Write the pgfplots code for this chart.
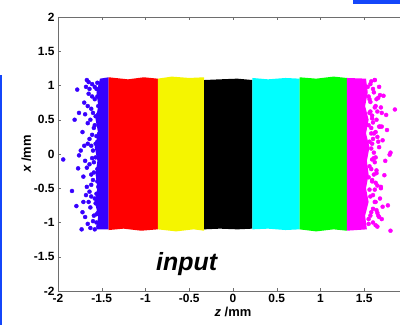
\documentclass[border=0pt]{standalone}
\usepackage{pgfplots}
\pgfplotsset{compat=1.18}
\usepackage{fontspec}
\setmainfont{Liberation Sans}
\definecolor{mblue}{RGB}{55,0,255}
\definecolor{myellow}{RGB}{245,245,0}
\definecolor{mred}{RGB}{255,0,0}
\definecolor{mcyan}{RGB}{0,255,255}
\definecolor{mgreen}{RGB}{0,255,0}
\definecolor{mmag}{RGB}{255,0,255}
\definecolor{edgeblue}{RGB}{20,70,250}
\definecolor{axgray}{RGB}{110,110,110}
\begin{document}
\begin{tikzpicture}
\begin{axis}[
  scale only axis, width=350bp, height=274bp,
  xmin=-2, xmax=2, ymin=-2, ymax=2,
  xtick={-2,-1.5,-1,-0.5,0,0.5,1,1.5},
  ytick={-2,-1.5,-1,-0.5,0,0.5,1,1.5,2},
  tick align=inside, major tick length=3bp,
  axis line style={draw=axgray},
  every tick/.style={draw=axgray},
  /pgf/number format/assume math mode=true,
  ticklabel style={font=\fontsize{12}{12}\selectfont\bfseries},
  xlabel={\textit{z} /mm}, ylabel={\textit{x} /mm},
  label style={font=\fontsize{13}{13}\selectfont\bfseries},
  xlabel style={yshift=3bp},
  ylabel style={yshift=-4bp},
  clip=true,
]
% dense bands
\addplot[fill=mblue, draw=none] coordinates {(-1.42,-1.10) (-1.56,-1.10) (-1.54,-0.90) (-1.58,-0.70) (-1.55,-0.50) (-1.57,-0.30) (-1.55,-0.10) (-1.58,0.10) (-1.54,0.30) (-1.57,0.50) (-1.54,0.70) (-1.56,0.90) (-1.52,1.10) (-1.42,1.12)};
\addplot[fill=mred, draw=none] coordinates {(-1.42,-1.11) (-1.25,-1.09) (-1.05,-1.12) (-0.86,-1.10) (-0.86,1.10) (-1.02,1.12) (-1.20,1.09) (-1.42,1.12)};
\addplot[fill=myellow, draw=none] coordinates {(-0.86,-1.10) (-0.65,-1.13) (-0.45,-1.10) (-0.33,-1.12) (-0.33,1.12) (-0.50,1.11) (-0.70,1.13) (-0.86,1.10)};
\addplot[fill=black, draw=none] coordinates {(-0.33,-1.10) (-0.15,-1.09) (0.05,-1.10) (0.22,-1.09) (0.22,1.08) (0.05,1.10) (-0.15,1.09) (-0.33,1.08)};
\addplot[fill=mcyan, draw=none] coordinates {(0.22,-1.10) (0.40,-1.09) (0.60,-1.11) (0.76,-1.10) (0.76,1.10) (0.60,1.11) (0.40,1.09) (0.22,1.11)};
\addplot[fill=mgreen, draw=none] coordinates {(0.76,-1.10) (0.95,-1.13) (1.15,-1.10) (1.30,-1.12) (1.30,1.11) (1.15,1.13) (0.95,1.10) (0.76,1.12)};
\addplot[fill=mmag, draw=none] coordinates {(1.30,-1.12) (1.53,-1.10) (1.51,-0.90) (1.55,-0.70) (1.52,-0.50) (1.55,-0.30) (1.53,-0.10) (1.56,0.10) (1.52,0.30) (1.55,0.50) (1.51,0.70) (1.54,0.90) (1.52,1.10) (1.30,1.11)};
% scattered edge points
\addplot[only marks, mark=*, mark size=2bp, color=mblue] coordinates {
(-1.94,-0.08) (-1.84,-0.54) (-1.81,0.50) (-1.79,-0.76) (-1.78,0.94) (-1.76,0.60) (-1.76,-0.02) (-1.77,-0.21) (-1.73,-1.10) (-1.67,1.08)
(-1.72,0.32) (-1.71,-0.33) (-1.70,0.75) (-1.69,-0.92) (-1.70,0.12) (-1.68,-0.60) (-1.66,0.45) (-1.66,-1.02) (-1.65,0.88) (-1.64,-0.15)
(-1.64,0.22) (-1.63,-0.78) (-1.62,0.66) (-1.62,-0.45) (-1.61,1.02) (-1.60,0.05) (-1.60,-0.98) (-1.59,0.38) (-1.59,-0.27) (-1.58,0.80)
(-1.58,-0.65) (-1.57,0.55) (-1.57,-0.05) (-1.56,0.95) (-1.56,-0.88) (-1.55,0.18) (-1.55,-0.40) (-1.54,0.70) (-1.54,-1.06) (-1.53,0.30)
(-1.74,0.05) (-1.69,0.58) (-1.67,-0.48) (-1.63,-1.08) (-1.61,0.28) (-1.65,1.05) (-1.58,-1.10) (-1.71,-0.70) (-1.68,0.98) (-1.62,-0.30)
(-1.60,0.60) (-1.59,-0.12) (-1.58,0.42) (-1.57,-0.72) (-1.56,0.26) (-1.56,-1.00) (-1.55,0.84) (-1.55,-0.22) (-1.54,0.58) (-1.54,-0.48)
(-1.63,0.50) (-1.62,-0.62) (-1.61,0.84) (-1.60,-0.38) (-1.66,0.15) (-1.65,-0.70) (-1.64,0.95) (-1.67,-0.20) (-1.57,0.15) (-1.56,-0.58)
(-1.55,1.04) (-1.54,-0.85) (-1.58,0.98) (-1.59,-0.90) (-1.61,-0.06) (-1.62,0.12) (-1.66,0.70) (-1.64,-0.55) (-1.69,-0.10) (-1.72,-0.85)};
\addplot[only marks, mark=*, mark size=2bp, color=mmag] coordinates {
(1.85,0.65) (1.75,0.57) (1.70,0.60) (1.71,0.20) (1.80,0.02) (1.79,-0.01) (1.77,-0.75) (1.80,-1.12) (1.71,-0.77) (1.73,-0.31) (1.65,-1.06) (1.64,-0.28) (1.62,1.08)
(1.60,0.95) (1.66,0.82) (1.68,0.40) (1.63,0.70) (1.61,0.30) (1.67,0.10) (1.62,-0.12) (1.69,-0.48) (1.60,-0.60) (1.66,-0.90) (1.63,-0.42) (1.59,0.52) (1.58,-0.85)
(1.57,1.02) (1.59,0.15) (1.58,-0.22) (1.60,-1.00) (1.57,0.62) (1.56,-0.52) (1.64,0.50) (1.72,0.85) (1.74,-0.10) (1.68,-0.65) (1.61,0.02) (1.65,0.25) (1.70,-0.95)
(1.62,-0.70) (1.56,0.80) (1.55,-0.95) (1.58,0.38) (1.59,-0.38) (1.76,0.35) (1.67,0.98) (1.63,-0.05) (1.69,0.68) (1.64,-0.82)
(1.54,0.98) (1.55,0.42) (1.56,-0.18) (1.57,0.76) (1.57,-0.62) (1.58,0.08) (1.58,1.06) (1.59,-0.40) (1.59,0.56) (1.60,-0.80)
(1.60,0.22) (1.61,-0.06) (1.61,0.90) (1.62,-0.52) (1.62,0.68) (1.63,-1.04) (1.63,0.32) (1.64,-0.24) (1.64,0.80) (1.65,-0.46)
(1.56,0.60) (1.57,-0.90) (1.58,0.30) (1.59,-0.08) (1.60,0.46) (1.61,-0.30) (1.62,1.08) (1.63,-0.70) (1.65,0.62) (1.66,0.18)
(1.67,-0.92) (1.68,0.86) (1.69,-0.50) (1.70,0.40) (1.65,-0.86) (1.55,-1.02) (1.56,0.18) (1.55,-0.34) (1.55,0.84) (1.67,0.40)};
\node[anchor=base, font=\fontsize{25}{25}\selectfont\bfseries\itshape] at (axis cs:-0.53,-1.70) {input};
\end{axis}
\fill[edgeblue] ([shift={(-58bp,-34bp)}]current axis.south west) rectangle ([shift={(-56bp,216bp)}]current axis.south west);
\fill[edgeblue] ([shift={(295bp,287bp)}]current axis.south west) rectangle ([shift={(342bp,291bp)}]current axis.south west);
\pgfresetboundingbox
\useasboundingbox ([shift={(-58bp,-34bp)}]current axis.south west) rectangle ([shift={(342bp,291bp)}]current axis.south west);
\end{tikzpicture}
\end{document}
